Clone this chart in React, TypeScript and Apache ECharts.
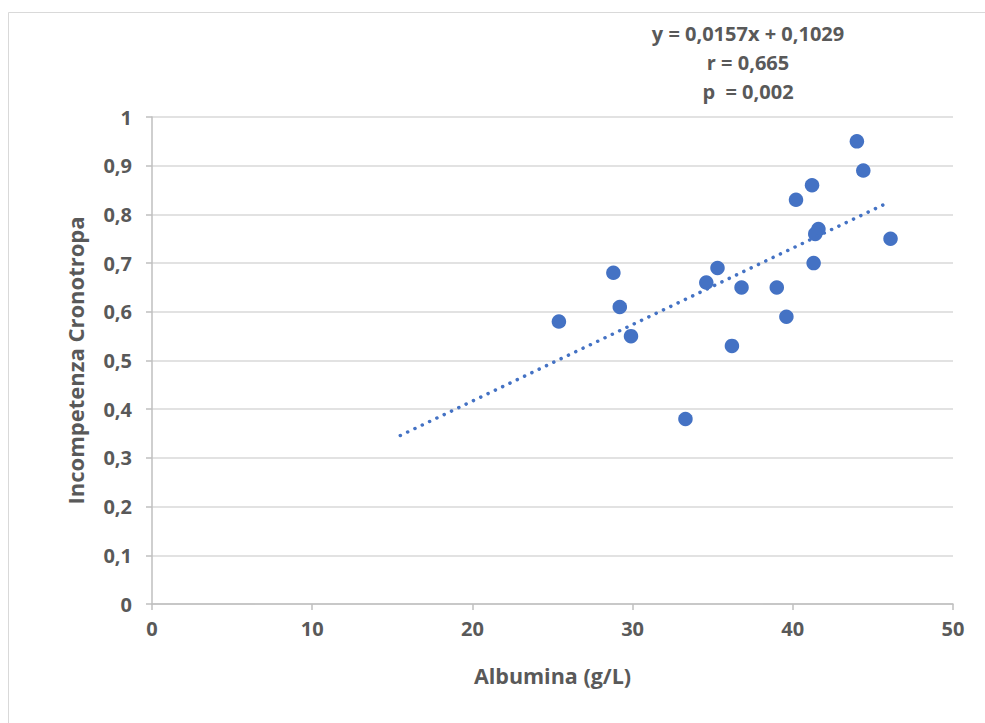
import React, { useEffect, useRef } from "react";
import * as echarts from "echarts";

const albumina = [44.0, 44.4, 41.2, 40.2, 41.6, 41.4, 46.1, 41.3, 35.3, 28.8, 34.6, 36.8, 39.0, 29.2, 25.4, 39.6, 29.9, 36.2, 33.3];
const incompetenza = [0.95, 0.89, 0.86, 0.83, 0.77, 0.76, 0.75, 0.70, 0.69, 0.68, 0.66, 0.65, 0.65, 0.61, 0.58, 0.59, 0.55, 0.53, 0.38];
const trendX = [15.5, 45.8];
const trendY = [0.346, 0.822];
const annotationLines = ["y = 0,0157x + 0,1029", "r = 0,665", "p  = 0,002"];
const xTitle = "Albumina (g/L)";
const yTitle = "Incompetenza Cronotropa";

const FONT = "'Open Sans', 'Noto Sans', sans-serif";
const TXT = "#595959";

export default function App() {
  const ref = useRef<HTMLDivElement>(null);
  useEffect(() => {
    if (!ref.current) return;
    const chart = echarts.init(ref.current, null, { renderer: "svg" });
    const points = albumina.map((x, i) => [x, incompetenza[i]]);
    const trend = trendX.map((x, i) => [x, trendY[i]]);
    chart.setOption({
      animation: false,
      backgroundColor: "#ffffff",
      grid: { left: 152, right: 32, top: 117, bottom: 119, containLabel: false },
      xAxis: {
        type: "value",
        min: 0,
        max: 50,
        interval: 10,
        name: xTitle,
        nameLocation: "middle",
        nameGap: 60,
        nameTextStyle: { fontFamily: FONT, fontWeight: "bold", fontSize: 21.5, color: TXT },
        axisLine: { show: true, onZero: false, lineStyle: { color: "#bfbfbf", width: 1.5 } },
        axisTick: { show: true, inside: false, length: 6, lineStyle: { color: "#bfbfbf", width: 1.5 } },
        splitLine: { show: false },
        axisLabel: { margin: 14, fontFamily: FONT, fontWeight: "bold", fontSize: 20, color: TXT },
      },
      yAxis: {
        type: "value",
        min: 0,
        max: 1,
        interval: 0.1,
        name: yTitle,
        nameLocation: "middle",
        nameRotate: 90,
        nameGap: 66,
        nameTextStyle: { fontFamily: FONT, fontWeight: "bold", fontSize: 22, color: TXT },
        axisLine: { show: true, lineStyle: { color: "#bfbfbf", width: 1.5 } },
        axisTick: { show: true, inside: false, length: 6, lineStyle: { color: "#bfbfbf", width: 1.5 } },
        splitLine: { show: true, lineStyle: { color: "#d9d9d9", width: 1.5 } },
        axisLabel: {
          margin: 20,
          fontFamily: FONT,
          fontWeight: "bold",
          fontSize: 20,
          color: TXT,
          formatter: (v: number) => String(+v.toFixed(1)).replace(".", ","),
        },
      },
      graphic: [
        {
          type: "rect",
          shape: { x: 8.5, y: 12.5, width: 1200, height: 1000 },
          style: { fill: "none", stroke: "#d9d9d9", lineWidth: 1 },
          silent: true,
          z: -10,
        },
        ...annotationLines.map((t, i) => ({
          type: "text",
          x: 748,
          y: 33 + i * 29,
          style: {
            text: t,
            fontFamily: FONT,
            fontWeight: "bold",
            fontSize: 20,
            fill: TXT,
            align: "center",
            verticalAlign: "middle",
          },
        })),
      ],
      series: [
        {
          type: "line",
          data: trend,
          symbol: "none",
          lineStyle: { color: "#4472C4", width: 3.5, type: [0.1, 8], cap: "round" },
          z: 3,
        },
        {
          type: "scatter",
          data: points,
          symbol: "circle",
          symbolSize: 14.5,
          itemStyle: { color: "#4472C4", opacity: 1 },
          z: 2,
        },
      ],
    });
    return () => chart.dispose();
  }, []);
  return (
    <div
      ref={ref}
      style={{ position: "fixed", left: 0, top: 0, width: 985, height: 723, background: "#fff" }}
    />
  );
}
